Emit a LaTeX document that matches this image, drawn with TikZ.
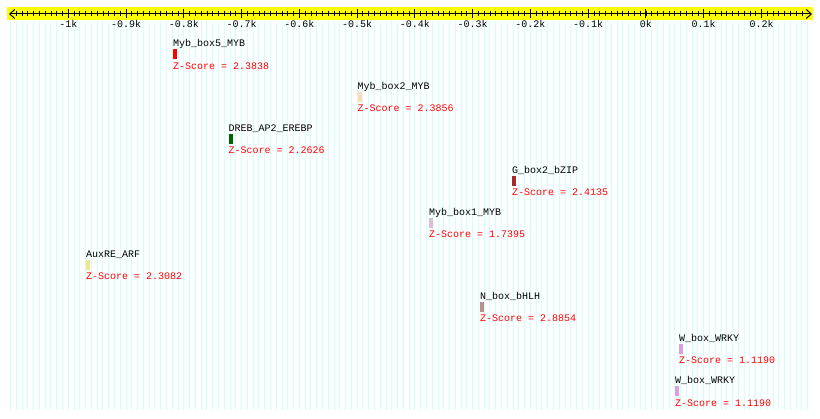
\documentclass[tikz,border=0pt]{standalone}
\usepackage{fontspec}
\setmonofont{Liberation Mono}
\usetikzlibrary{arrows.meta}
\definecolor{gridc}{HTML}{D0FFFF}
\definecolor{bandc}{HTML}{FFFF00}
\definecolor{c1}{HTML}{FF0000}
\definecolor{c2}{HTML}{FFDAB9}
\definecolor{c3}{HTML}{006400}
\definecolor{c4}{HTML}{A52A2A}
\definecolor{c5}{HTML}{D8BFD8}
\definecolor{c6}{HTML}{F0E68C}
\definecolor{c7}{HTML}{BC8F8F}
\definecolor{c8}{HTML}{DDA0DD}
\definecolor{zred}{HTML}{FF0000}
\begin{document}
\begin{tikzpicture}[x=1pt,y=-1pt,
  lbl/.style={font=\ttfamily\fontsize{10}{12}\selectfont, inner sep=0pt, anchor=base west},
  ticklbl/.style={font=\ttfamily\fontsize{10}{12}\selectfont, inner sep=0pt, anchor=base},
  sitebox/.style={draw=none, minimum width=4pt, minimum height=10pt, inner sep=0pt, anchor=north west},
  gridline/.style={gridc, line width=1pt},
  axisline/.style={black, line width=1pt, {Straight Barb[length=5pt,width=9pt]}-{Straight Barb[length=5pt,width=9pt]}}]
\useasboundingbox (0,0) rectangle (820,419);
\fill[white] (0,0) rectangle (820,419);
% grid
\foreach \i in {0,...,138} {
  \draw[gridline] ({10.5+\i*5.777},21) -- ({10.5+\i*5.777},410);
}
% axis band
\fill[bandc] (7,7) rectangle (813,20.5);
\coordinate (axL) at (9,14);
\coordinate (axR) at (812,14);
\draw[axisline] (axL) -- (axR);
\foreach \i in {1,...,137} {
  \draw[black, line width=0.8pt] ({10.5+\i*5.777},11.5) -- ({10.5+\i*5.777},16.5);
}
\foreach \i/\t [count=\k] in {10/-1k,20/-0.9k,30/-0.8k,40/-0.7k,50/-0.6k,60/-0.5k,70/-0.4k,80/-0.3k,90/-0.2k,100/-0.1k,110/0k,120/0.1k,130/0.2k} {
  \draw[black, line width=1pt] ({10.5+\i*5.777},9.5) -- ({10.5+\i*5.777},18.5);
  \node[ticklbl] (tl\k) at ({10.5+\i*5.777},28) {\t};
}
% sites
\foreach \n/\x/\r/\t/\c/\z in {
  a/173/0/Myb\_box5\_MYB/c1/2.3838,
  b/357.5/1/Myb\_box2\_MYB/c2/2.3856,
  c/228.5/2/DREB\_AP2\_EREBP/c3/2.2626,
  d/512/3/G\_box2\_bZIP/c4/2.4135,
  e/429/4/Myb\_box1\_MYB/c5/1.7395,
  f/86/5/AuxRE\_ARF/c6/2.3082,
  g/480/6/N\_box\_bHLH/c7/2.8854,
  h/679/7/W\_box\_WRKY/c8/1.1190,
  i/675/8/W\_box\_WRKY/c8/1.1190} {
  \node[lbl] (\n-t) at (\x, {47+42.1*\r}) {\t};
  \node[sitebox, fill=\c] (\n-b) at (\x, {49.3+42.1*\r}) {};
  \node[lbl, text=zred] (\n-z) at (\x, {69.3+42.1*\r}) {Z-Score = \z};
}
\end{tikzpicture}
\end{document}
